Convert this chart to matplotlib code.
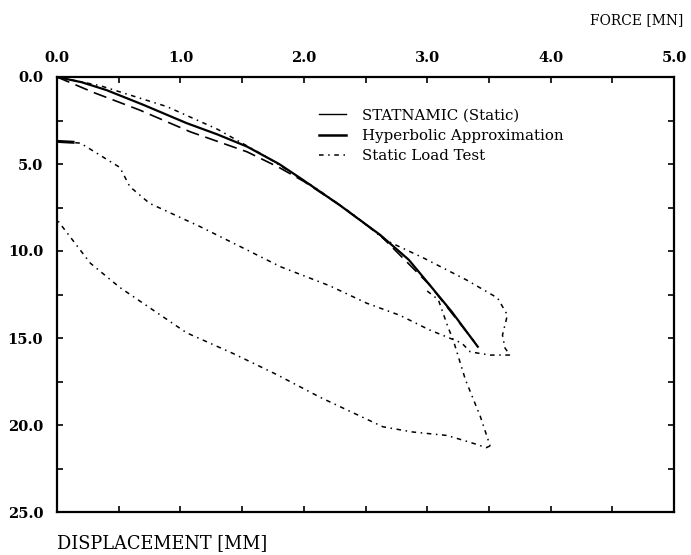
import matplotlib
matplotlib.use("Agg")
import matplotlib.pyplot as plt
from matplotlib.lines import Line2D

plt.rcParams["font.family"] = ["DejaVu Serif"]

# STATNAMIC (static) derived curve
stn_force = [0.0, 0.2, 0.4, 0.7, 1.05, 1.3, 1.54, 1.8, 1.99, 2.29, 2.62, 2.85, 3.02, 3.2, 3.41]
stn_disp = [0.0, 0.3, 0.75, 1.6, 2.65, 3.3, 4.0, 5.0, 5.9, 7.36, 9.08, 10.5, 11.95, 13.5, 15.5]

# hyperbolic approximation
hyp_force = [0.0, 0.3, 0.67, 1.08, 1.54, 1.8, 2.0, 2.3, 2.62, 3.02, 3.38]
hyp_disp = [0.0, 0.9, 1.9, 3.15, 4.3, 5.2, 6.0, 7.4, 9.1, 11.95, 15.2]

# static load test, first loading with creep at max load
slt_load1_force = [0.0, 0.35, 0.89, 1.3, 1.7, 2.1, 2.4, 2.66, 2.97, 3.32, 3.57, 3.65, 3.61, 3.63, 3.67]
slt_load1_disp = [0.0, 0.5, 1.7, 3.0, 4.6, 6.4, 7.9, 9.37, 10.4, 11.67, 12.7, 13.68, 14.83, 15.57, 15.98]

# first unloading
slt_unload1_force = [3.67, 3.51, 3.35, 3.28, 3.18, 3.02, 2.78, 2.51, 2.21, 1.81, 1.54, 1.16, 0.75, 0.59, 0.51, 0.19, 0.0]
slt_unload1_disp = [15.98, 15.98, 15.8, 15.29, 15.0, 14.54, 13.7, 13.0, 12.0, 10.9, 9.94, 8.6, 7.26, 6.3, 5.2, 3.8, 3.7]

# short reload stub at the residual displacement
slt_stub_force = [0.0, 0.13]
slt_stub_disp = [3.7, 3.75]

# second loading beyond previous max
slt_load2_force = [3.0, 3.09, 3.17, 3.21, 3.31, 3.43, 3.51]
slt_load2_disp = [12.3, 12.8, 14.4, 15.1, 17.4, 19.5, 21.2]

# second unloading
slt_unload2_force = [3.51, 3.48, 3.35, 3.16, 2.88, 2.64, 2.46, 2.13, 1.78, 1.43, 1.05, 0.78, 0.51, 0.27, 0.0]
slt_unload2_disp = [21.2, 21.3, 21.0, 20.6, 20.4, 20.1, 19.5, 18.4, 17.1, 15.9, 14.7, 13.4, 12.1, 10.7, 8.2]

x_ticks = [0, 1, 2, 3, 4, 5]
y_ticks = [0, 5, 10, 15, 20, 25]

fig = plt.figure(figsize=(6.91, 5.55), dpi=100)
ax = fig.add_axes([57 / 691, 1 - 512 / 555, (674 - 57) / 691, (512 - 77) / 555])

ax.plot(stn_force, stn_disp, color="black", lw=1.6)
ax.plot(hyp_force, hyp_disp, color="black", lw=1.2, dashes=(8, 4))
slt_style = dict(color="black", lw=1.1, dashes=(3, 3, 1, 3))
ax.plot(slt_load1_force, slt_load1_disp, **slt_style)
ax.plot(slt_unload1_force, slt_unload1_disp, **slt_style)
ax.plot(slt_stub_force, slt_stub_disp, color="black", lw=2.2)
ax.plot(slt_load2_force, slt_load2_disp, **slt_style)
ax.plot(slt_unload2_force, slt_unload2_disp, **slt_style)

ax.set_xlim(0, 5)
ax.set_ylim(25, 0)
ax.xaxis.tick_top()
ax.set_xticks(x_ticks)
ax.set_xticklabels([f"{v:.1f}" for v in x_ticks], fontweight="bold", fontsize=10.5)
ax.set_yticks(y_ticks)
ax.set_yticklabels([f"{v:.1f}" for v in y_ticks], fontweight="bold", fontsize=10.5)
ax.set_xticks([0.5 * i for i in range(11)], minor=True)
ax.set_yticks([2.5 * i for i in range(11)], minor=True)
ax.tick_params(which="both", direction="in", top=True, bottom=True, left=True, right=True,
               length=4, width=1.2)
ax.tick_params(axis="x", which="major", pad=9)
ax.tick_params(axis="y", which="major", pad=10)
for s in ax.spines.values():
    s.set_linewidth(1.6)

handles = [
    Line2D([], [], color="black", lw=1.0),
    Line2D([], [], color="black", lw=1.8),
    Line2D([], [], color="black", lw=1.1, dashes=(3, 3, 1, 3)),
]
labels = ["STATNAMIC (Static)", "Hyperbolic Approximation", "Static Load Test"]
ax.legend(handles, labels, frameon=False, fontsize=10.8, handlelength=1.8,
          handletextpad=1.1, labelspacing=0.42,
          loc="upper left", bbox_to_anchor=(305 / 691, 1 - 95 / 555),
          bbox_transform=fig.transFigure)

fig.text(683 / 691, 1 - 20 / 555, "FORCE [MN]", ha="right", va="center", fontsize=10)
fig.text(57 / 691, 1 - 543 / 555, "DISPLACEMENT [MM]", ha="left", va="center", fontsize=12.8)

fig.savefig("out.png", dpi=100)
